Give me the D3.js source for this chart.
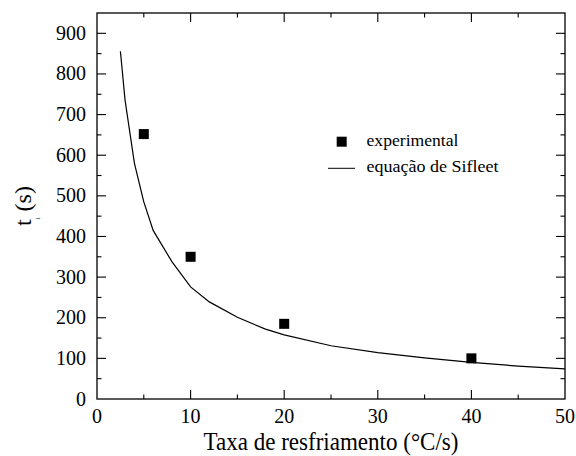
<!DOCTYPE html>
<html>
<head>
<meta charset="utf-8">
<script src="https://cdn.jsdelivr.net/npm/d3@7"></script>
<style>
  html, body { margin: 0; padding: 0; background: #fff; }
  svg { display: block; }
  svg text { font-family: 'Liberation Serif', 'Times New Roman', Times, serif; }
</style>
</head>
<body>
<svg id="chart" width="576" height="456"></svg>
<script>
// Cooling rate (°C/s) vs. incubation time t_i (s)
const expRate = [5, 10, 20, 40];
const expTime = [652, 350, 185, 100];

// Sifleet equation curve, sampled points
const modelRate = [2.5, 3, 4, 5, 6, 8, 10, 12, 15, 18, 20, 25, 30, 35, 40, 45, 50];
const modelTime = [856, 735, 580, 485, 415, 338, 276, 239, 201, 172, 158, 131, 114, 101, 90, 81, 74];

const xTicks = [0, 10, 20, 30, 40, 50];
const yTicks = [0, 100, 200, 300, 400, 500, 600, 700, 800, 900];

const svg = d3.select("#chart");
const plotL = 97, plotR = 565, plotT = 13, plotB = 399;

const x = d3.scaleLinear().domain([0, 50]).range([plotL, plotR]);
const y = d3.scaleLinear().domain([0, 950]).range([plotB, plotT]);

const majorLen = 9, minorLen = 4.5;
const xMinor = d3.range(5, 50, 10);
const yMinor = d3.range(50, 950, 100);

// Frame
svg.append("rect")
  .attr("x", plotL).attr("y", plotT)
  .attr("width", plotR - plotL).attr("height", plotB - plotT)
  .attr("fill", "none").attr("stroke", "#000").attr("stroke-width", 1.3);

// Inward ticks on all four sides
const ticks = svg.append("g").attr("stroke", "#000").attr("stroke-width", 1.1);
function xTickMarks(vals, len) {
  vals.forEach(v => {
    ticks.append("line").attr("x1", x(v)).attr("x2", x(v)).attr("y1", plotB).attr("y2", plotB - len);
    ticks.append("line").attr("x1", x(v)).attr("x2", x(v)).attr("y1", plotT).attr("y2", plotT + len);
  });
}
function yTickMarks(vals, len) {
  vals.forEach(v => {
    ticks.append("line").attr("y1", y(v)).attr("y2", y(v)).attr("x1", plotL).attr("x2", plotL + len);
    ticks.append("line").attr("y1", y(v)).attr("y2", y(v)).attr("x1", plotR).attr("x2", plotR - len);
  });
}
xTickMarks(xTicks.slice(1, -1), majorLen);
xTickMarks(xMinor, minorLen);
yTickMarks(yTicks.slice(1), majorLen);
yTickMarks(yMinor, minorLen);

// Tick labels
svg.append("g").selectAll("text").data(xTicks).join("text")
  .attr("x", d => x(d)).attr("y", 423)
  .attr("text-anchor", "middle")
  .attr("font-size", 20)
  .text(d => d);

svg.append("g").selectAll("text").data(yTicks).join("text")
  .attr("x", 86).attr("y", d => y(d) + 6.5)
  .attr("text-anchor", "end")
  .attr("font-size", 20)
  .text(d => d);

// Axis titles
svg.append("text")
  .attr("x", (plotL + plotR) / 2).attr("y", 450)
  .attr("text-anchor", "middle")
  .attr("font-size", 25)
  .attr("textLength", 255)
  .attr("lengthAdjust", "spacingAndGlyphs")
  .text("Taxa de resfriamento (°C/s)");

const yTitle = svg.append("text")
  .attr("transform", "translate(31,226) rotate(-90)")
  .attr("font-size", 24);
yTitle.append("tspan").text("t");
yTitle.append("tspan").attr("font-size", 7).attr("dy", 9).text("i");
yTitle.append("tspan").attr("dy", -9).text(" (s)");

// Sifleet curve
const line = d3.line().x(d => x(d[0])).y(d => y(d[1]));
svg.append("path")
  .datum(modelRate.map((r, i) => [r, modelTime[i]]))
  .attr("d", line)
  .attr("fill", "none").attr("stroke", "#000").attr("stroke-width", 1.2);

// Experimental points
const sq = 10;
svg.append("g").selectAll("rect").data(expRate.map((r, i) => [r, expTime[i]])).join("rect")
  .attr("x", d => x(d[0]) - sq / 2).attr("y", d => y(d[1]) - sq / 2)
  .attr("width", sq).attr("height", sq)
  .attr("fill", "#000");

// Legend
const lg = svg.append("g");
lg.append("rect").attr("x", 336.7).attr("y", 136.7).attr("width", sq).attr("height", sq).attr("fill", "#000");
lg.append("text").attr("x", 366.5).attr("y", 145.5).attr("font-size", 17.5)
  .attr("textLength", 92).attr("lengthAdjust", "spacingAndGlyphs").text("experimental");
lg.append("line").attr("x1", 328).attr("x2", 355).attr("y1", 168.3).attr("y2", 168.3)
  .attr("stroke", "#000").attr("stroke-width", 1);
lg.append("text").attr("x", 366.5).attr("y", 172).attr("font-size", 17.5)
  .attr("textLength", 132).attr("lengthAdjust", "spacingAndGlyphs").text("equação de Sifleet");
</script>
</body>
</html>
